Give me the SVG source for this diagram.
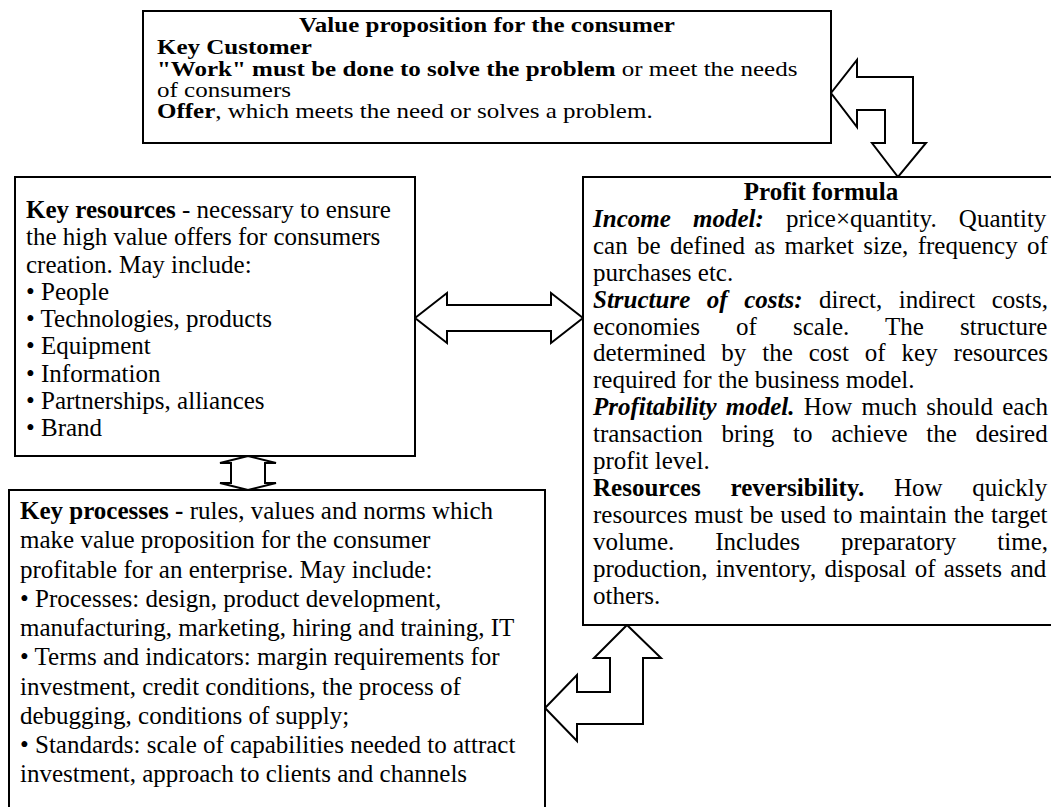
<svg xmlns="http://www.w3.org/2000/svg" width="1051" height="807" viewBox="0 0 1051 807">
<style>
.box{fill:#fff;stroke:#000;stroke-width:2}
.arr{fill:#fff;stroke:#000;stroke-width:2;stroke-linejoin:miter}
text{font-family:"Liberation Serif","Times New Roman",serif;font-size:25px;fill:#000}
.b{font-weight:bold}
.bi{font-weight:bold;font-style:italic}
.c{text-anchor:middle}
</style>
<rect width="1051" height="807" fill="#fff"/>
<g id="connectors">
<polygon class="arr" points="831,93 857,60 857,77 913,77 913,143 926,143 898,177 872,143 885,143 885,110 857,110 857,127"/>
<polygon class="arr" points="415,318 447,293 447,305 551,305 551,293 583,318 551,343 551,331 447,331 447,343"/>
<polygon class="arr" points="248,456 276,463 265,463 265,483 276,483 248,490 220,483 231,483 231,463 220,463"/>
<polygon class="arr" points="627,625 661,658 643,658 643,724 577,724 577,741 545,708 577,675 577,692 610,692 610,658 594,658"/>
</g>
<g id="value-proposition">
<rect class="box" x="143" y="11" width="688" height="132"/>
<text class="b c" transform="matrix(1,0,0,0.82,0,32)" x="487" y="0">Value proposition for the consumer</text>
<text class="b" transform="matrix(1,0,0,0.82,0,54)" x="157" y="0">Key Customer</text>
<text transform="matrix(1,0,0,0.82,0,76)" x="157" y="0"><tspan class="b">"Work" must be done to solve the problem</tspan> or meet the needs</text>
<text transform="matrix(1,0,0,0.82,0,97)" x="157" y="0">of consumers</text>
<text transform="matrix(1,0,0,0.82,0,118)" x="157" y="0"><tspan class="b">Offer</tspan>, which meets the need or solves a problem.</text>
</g>
<g id="key-resources">
<rect class="box" x="15" y="177" width="400" height="279"/>
<text x="26" y="218"><tspan class="b">Key resources</tspan> - necessary to ensure</text>
<text x="26" y="245.25">the high value offers for consumers</text>
<text x="26" y="272.5">creation. May include:</text>
<text x="26" y="299.75">• People</text>
<text x="26" y="327">• Technologies, products</text>
<text x="26" y="354.25">• Equipment</text>
<text x="26" y="381.5">• Information</text>
<text x="26" y="408.75">• Partnerships, alliances</text>
<text x="26" y="436">• Brand</text>
</g>
<g id="profit-formula">
<rect class="box" x="583" y="177" width="480" height="448"/>
<text class="b c" x="821" y="200">Profit formula</text>
<text x="593" y="226.9" word-spacing="15.96"><tspan class="bi">Income model:</tspan> price×quantity. Quantity</text>
<text x="593" y="253.8" word-spacing="3.1">can be defined as market size, frequency of</text>
<text x="593" y="280.7">purchases etc.</text>
<text x="593" y="307.6" word-spacing="10.3"><tspan class="bi">Structure of costs:</tspan> direct, indirect costs,</text>
<text x="593" y="334.5" word-spacing="29.9">economies of scale. The structure</text>
<text x="593" y="361.4" word-spacing="9.65">determined by the cost of key resources</text>
<text x="593" y="388.3">required for the business model.</text>
<text x="593" y="415.2" word-spacing="2.96"><tspan class="bi">Profitability model.</tspan> How much should each</text>
<text x="593" y="442.1" word-spacing="12.5">transaction bring to achieve the desired</text>
<text x="593" y="469">profit level.</text>
<text x="593" y="495.9" word-spacing="23.5"><tspan class="b">Resources reversibility.</tspan> How quickly</text>
<text x="593" y="522.8" word-spacing="0.63">resources must be used to maintain the target</text>
<text x="593" y="549.7" word-spacing="34.8">volume. Includes preparatory time,</text>
<text x="593" y="576.6" word-spacing="1.98">production, inventory, disposal of assets and</text>
<text x="593" y="603.5">others.</text>
</g>
<g id="key-processes">
<rect class="box" x="9" y="490" width="536" height="330"/>
<text x="20" y="519"><tspan class="b">Key processes -</tspan> rules, values and norms which</text>
<text x="20" y="548.25">make value proposition for the consumer</text>
<text x="20" y="577.5">profitable for an enterprise. May include:</text>
<text x="20" y="606.75">• Processes: design, product development,</text>
<text x="20" y="636">manufacturing, marketing, hiring and training, IT</text>
<text x="20" y="665.25">• Terms and indicators: margin requirements for</text>
<text x="20" y="694.5">investment, credit conditions, the process of</text>
<text x="20" y="723.75">debugging, conditions of supply;</text>
<text x="20" y="753">• Standards: scale of capabilities needed to attract</text>
<text x="20" y="782.25">investment, approach to clients and channels</text>
</g>
</svg>
